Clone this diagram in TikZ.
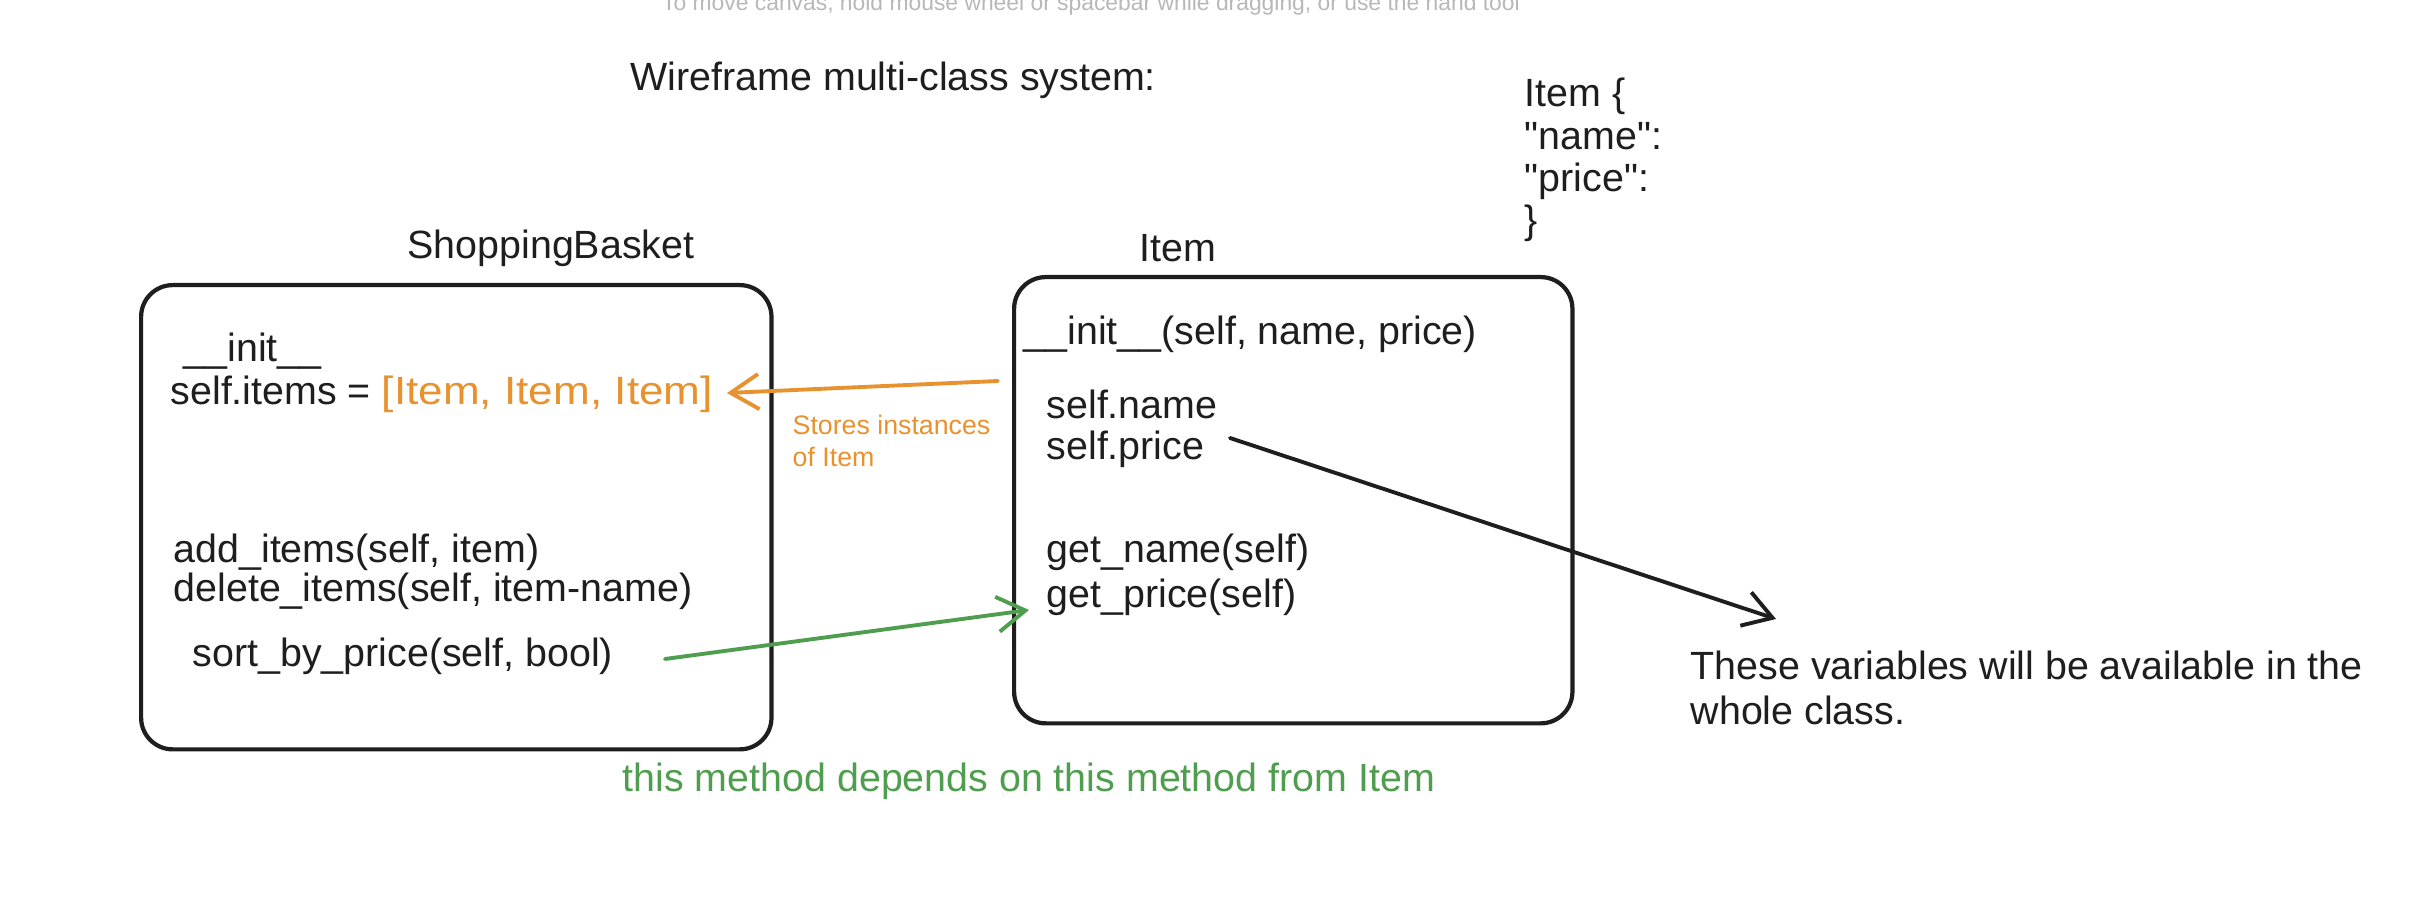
\documentclass[tikz,border=0pt]{standalone}
\usepackage{fontspec}
\setmainfont{Liberation Sans}
\usetikzlibrary{arrows.meta}
\definecolor{ink}{HTML}{1E1E1E}
\definecolor{orng}{HTML}{E8922F}
\definecolor{grn}{HTML}{4F9E4F}
\definecolor{hint}{HTML}{B8B8B8}
\tikzset{
  classbox/.style={draw=ink, line width=1.2pt, rounded corners=9pt, inner sep=0pt},
  txt/.style={anchor=west, inner sep=0pt, text=ink, font=\fontsize{11.2}{13}\selectfont},
  lbl/.style={anchor=center, inner sep=0pt, text=ink, font=\fontsize{11.2}{13}\selectfont},
  conn/.style={line width=1.1pt, line cap=round, -{Straight Barb[length=8pt,width=10pt,line width=1.1pt]}},
}
\begin{document}
\begin{tikzpicture}[x=0.01cm, y=-0.01cm]
\useasboundingbox (0,0) rectangle (2426,898);
\fill[white] (0,0) rectangle (2426,898);
% faint canvas hint (cut off at top)
\node[anchor=base, inner sep=0pt, text=hint, font=\fontsize{6.5}{8}\selectfont] (hintt) at (1091,11) {To move canvas, hold mouse wheel or spacebar while dragging, or use the hand tool};
% title
\node[txt] (title) at (630,80) {Wireframe multi-class system:};
% item json
\node[txt, align=left, font=\fontsize{11.2}{12}\selectfont] (json) at (1524,160) {Item \{\\\textquotedbl name\textquotedbl:\\\textquotedbl price\textquotedbl:\\\}};
% class boxes
\node[classbox, minimum width=6.30cm, minimum height=4.64cm, anchor=north west] (basket) at (139,283) {};
\node[classbox, minimum width=5.58cm, minimum height=4.46cm, anchor=north west] (item) at (1012,275) {};
\node[lbl] (basketlbl) at (551,248) {ShoppingBasket};
\node[lbl] (itemlbl) at (1178,248) {Item};
% basket contents
\node[txt] (binit) at (183,351) {\_\_init\_\_};
\node[txt] (bitems) at (170,394) {self.items = \textcolor{orng}{\scalebox{1.12}[1]{[Item, Item, Item]}}};
\coordinate (bitemsend) at (727,393);
\node[txt] (badd) at (173,552) {add\_items(self, item)};
\node[txt] (bdel) at (173,591) {delete\_items(self, item-name)};
\node[txt] (bsort) at (192,656) {sort\_by\_price(self, bool)};
% item contents
\node[txt] (iinit) at (1023,334) {\_\_init\_\_(self, name, price)};
\node[txt] (iname) at (1046,404) {self.name};
\node[txt] (iprice) at (1046,449) {self.price};
\node[txt] (igetname) at (1046,552) {get\_name(self)};
\node[txt] (igetprice) at (1046,597) {get\_price(self)};
% annotations
\node[txt, text=orng, align=left, font=\fontsize{7.6}{9}\selectfont] (stores) at (792,441) {Stores instances\\of Item};
\node[txt, align=left] (vars) at (1690,688) {These variables will be available in the\\whole class.};
\node[txt, text=grn] (dep) at (622,781) {this method depends on this method from Item};
% connectors
\coordinate (ostart) at (998,381);
\draw[conn, orng] (ostart) -- (bitemsend);
\coordinate (bstart) at (1230,438);
\coordinate (bend) at (1776,619);
\draw[conn, ink] (bstart) -- (bend);
\coordinate (gstart) at (665,659);
\coordinate (gend) at (1029,610);
\draw[conn, grn] (gstart) -- (gend);
\end{tikzpicture}
\end{document}
